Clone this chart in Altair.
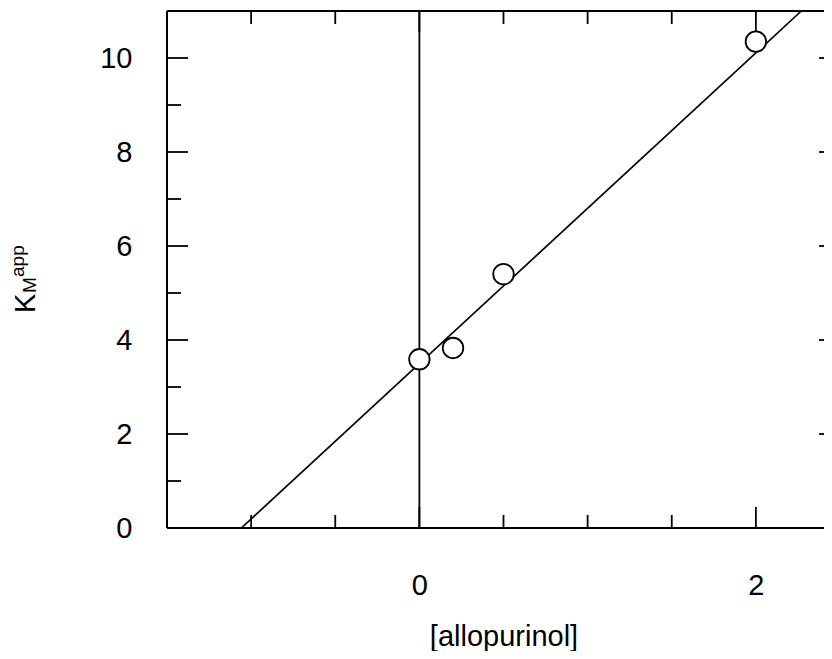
import altair as alt
import pandas as pd

# ---- data ----
conc = [0.0, 0.2, 0.5, 2.0]
km_app = [3.59, 3.83, 5.40, 10.35]
fit_x = [-1.058, 2.27]
fit_y = [0.0, 11.0]
zero_line_x = [0.0]
x_major_ticks = [0.0, 2.0]
x_minor_ticks = [-1.0, -0.5, 0.5, 1.0, 1.5]
y_major_ticks = [0, 2, 4, 6, 8, 10]
y_minor_ticks = [1, 3, 5, 7, 9, 11]
x_labels = [0, 2]
y_labels = [0, 2, 4, 6, 8, 10]
ylabel_parts = ["K", "M", "app"]

FULL_W = 673          # full plot frame width (right part runs past the window)
W, H = 657, 517       # visible view
FONT = "Liberation Sans"
FS = 29
xs = alt.Scale(domain=[-1.5, 2.5], range=[0, FULL_W], nice=False, zero=False)
ys = alt.Scale(domain=[0, 11], nice=False, zero=False)

x_axis = alt.Axis(values=x_labels, ticks=False, domain=False, grid=False,
                  labelFont=FONT, labelFontSize=FS, labelColor="black",
                  labelPadding=43, format="d",
                  title="[allopurinol]", titleFont=FONT, titleFontSize=FS,
                  titleFontWeight="normal", titleColor="black", titlePadding=22)
y_axis = alt.Axis(values=y_labels, ticks=False, domain=False, grid=False,
                  labelFont=FONT, labelFontSize=FS, labelColor="black",
                  labelPadding=35, format="d", title=None)

pts = pd.DataFrame({"v": conc, "w": km_app})
fit = pd.DataFrame({"v": fit_x, "w": fit_y})
one = pd.DataFrame({"a": [0]})

points = alt.Chart(pts).mark_point(shape="circle", filled=True, fill="white",
                                   stroke="black", strokeWidth=1.8, size=420,
                                   opacity=1).encode(
    x=alt.X("v:Q", scale=xs, axis=x_axis),
    y=alt.Y("w:Q", scale=ys, axis=y_axis),
)

fit_line = alt.Chart(fit).mark_line(color="black", strokeWidth=1.7).encode(
    x=alt.X("v:Q", scale=xs, axis=x_axis),
    y=alt.Y("w:Q", scale=ys, axis=y_axis),
)

zero_line = alt.Chart(pd.DataFrame({"v": zero_line_x})).mark_rule(
    color="black", strokeWidth=1.8).encode(
    x=alt.X("v:Q", scale=xs, axis=x_axis), y=alt.value(0), y2=alt.value(H))

RULE = dict(color="black", strokeWidth=2)
frame = [
    alt.Chart(one).mark_rule(**RULE).encode(x=alt.value(0), x2=alt.value(FULL_W), y=alt.value(0)),
    alt.Chart(one).mark_rule(**RULE).encode(x=alt.value(0), x2=alt.value(FULL_W), y=alt.value(H)),
    alt.Chart(one).mark_rule(**RULE).encode(x=alt.value(0), y=alt.value(0), y2=alt.value(H)),
    alt.Chart(one).mark_rule(**RULE).encode(x=alt.value(FULL_W), y=alt.value(0), y2=alt.value(H)),
]


def xticks(vals, length):
    d = pd.DataFrame({"v": vals})
    bottom = alt.Chart(d).mark_rule(color="black", strokeWidth=1.8).encode(
        x=alt.X("v:Q", scale=xs, axis=x_axis), y=alt.value(H), y2=alt.value(H - length))
    top = alt.Chart(d).mark_rule(color="black", strokeWidth=1.8).encode(
        x=alt.X("v:Q", scale=xs, axis=x_axis), y=alt.value(0), y2=alt.value(length))
    return [bottom, top]


def yticks(vals, length):
    d = pd.DataFrame({"w": vals})
    left = alt.Chart(d).mark_rule(color="black", strokeWidth=1.8).encode(
        y=alt.Y("w:Q", scale=ys, axis=y_axis), x=alt.value(0), x2=alt.value(length))
    right = alt.Chart(d).mark_rule(color="black", strokeWidth=1.8).encode(
        y=alt.Y("w:Q", scale=ys, axis=y_axis), x=alt.value(FULL_W), x2=alt.value(FULL_W - length))
    return [left, right]


ticks = xticks(x_major_ticks, 21) + xticks(x_minor_ticks, 13) + \
    yticks(y_major_ticks, 21) + yticks(y_minor_ticks, 14)

lab_k = alt.Chart(pd.DataFrame({"s": [ylabel_parts[0]]})).mark_text(
    font=FONT, fontSize=FS, angle=270, align="left", baseline="alphabetic",
    color="black").encode(text="s:N", x=alt.value(-132), y=alt.value(302))
lab_m = alt.Chart(pd.DataFrame({"s": [ylabel_parts[1]]})).mark_text(
    font=FONT, fontSize=19, angle=270, align="left", baseline="alphabetic",
    color="black").encode(text="s:N", x=alt.value(-131), y=alt.value(282))
lab_app = alt.Chart(pd.DataFrame({"s": [ylabel_parts[2]]})).mark_text(
    font=FONT, fontSize=19, angle=270, align="left", baseline="alphabetic",
    color="black").encode(text="s:N", x=alt.value(-143), y=alt.value(266))

chart = alt.layer(
    points, *frame, *ticks, zero_line, fit_line, lab_k, lab_m, lab_app
).properties(
    width=W, height=H,
    autosize=alt.AutoSizeParams(type="none"),
    padding={"left": 159, "top": 3, "right": 0, "bottom": 123},
).configure(background="white").configure_view(strokeWidth=0)

# draw the circles above the lines
chart = chart.copy()
chart.layer = [*frame, *ticks, zero_line, fit_line, points, lab_k, lab_m, lab_app]

chart.save("out.html", embed_options={"renderer": "svg", "actions": False})
